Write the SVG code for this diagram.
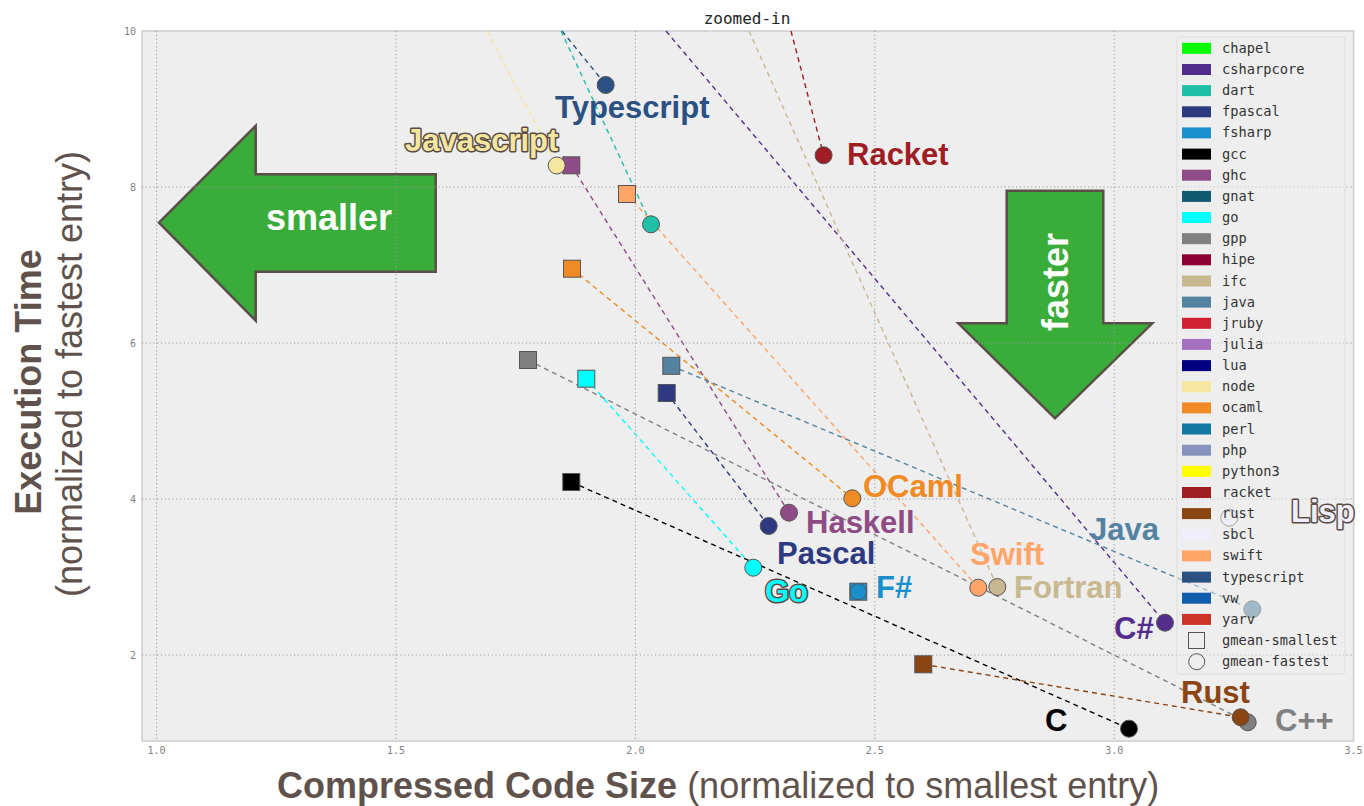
<svg xmlns="http://www.w3.org/2000/svg" width="1364" height="806" viewBox="0 0 1364 806">
<style>
.grid{stroke:#9a9a9a;stroke-width:1;stroke-dasharray:1.2,2.6;fill:none}
.tick{font-family:"DejaVu Sans Mono","Liberation Mono",monospace;font-size:10px;fill:#808080}
.dl{fill:none;stroke-width:1.4;stroke-dasharray:5,4}
.mk{stroke:#555;stroke-width:1}
.lab{font-family:"Liberation Sans",Arial,sans-serif;font-weight:bold;font-size:31px}
.out{stroke:#5a4a44;stroke-width:3;paint-order:stroke;stroke-linejoin:round}
.leg{font-family:"DejaVu Sans Mono","Liberation Mono",monospace;font-size:13.7px;fill:#333}
.arrow{fill:#3aac3a;stroke:#5b4d48;stroke-width:2.5;stroke-linejoin:miter}
.arrowtxt{font-family:"Liberation Sans",Arial,sans-serif;font-weight:bold;font-size:36px;fill:#ffffff}
.axis{font-family:"Liberation Sans",Arial,sans-serif;font-size:36px;fill:#5f524c}
</style>
<rect width="1364" height="806" fill="#ffffff"/>
<g id="plot-area">
<rect x="142" y="31" width="1211.6" height="710" fill="#eeeeee" stroke="#cccccc" stroke-width="1.5"/>
</g>
<g id="connectors">
<line class="dl" stroke="#eeeefc" x1="710" y1="31" x2="1229" y2="517"/>
<line class="dl" stroke="#f5e6a0" x1="487" y1="31" x2="557" y2="165"/>
<line class="dl" stroke="#2b5082" x1="562" y1="31" x2="606" y2="85"/>
<line class="dl" stroke="#20c0a8" x1="561" y1="31" x2="651" y2="224"/>
<line class="dl" stroke="#532d8c" x1="666" y1="31" x2="1165" y2="622.7"/>
<line class="dl" stroke="#c8b88f" x1="749" y1="31" x2="997.3" y2="587"/>
<line class="dl" stroke="#9f1d24" x1="791" y1="31" x2="823.6" y2="155.3"/>
<line class="dl" stroke="#8e4b85" x1="571.3" y1="165.3" x2="789" y2="512.7"/>
<line class="dl" stroke="#ffa568" x1="627" y1="194" x2="978.3" y2="587.7"/>
<line class="dl" stroke="#f08a24" x1="572" y1="268.7" x2="852.3" y2="498.3"/>
<line class="dl" stroke="#5383a1" x1="671.3" y1="365.8" x2="1252.3" y2="609.3"/>
<line class="dl" stroke="#2d3a82" x1="666.7" y1="393" x2="768.7" y2="526"/>
<line class="dl" stroke="#808080" x1="528" y1="360" x2="1247.7" y2="722.3"/>
<line class="dl" stroke="#00ffff" x1="586.3" y1="378.7" x2="753.3" y2="567.7"/>
<line class="dl" stroke="#000000" x1="571.3" y1="482" x2="1129" y2="728.7"/>
<line class="dl" stroke="#8b4513" x1="923.3" y1="664.3" x2="1240.7" y2="717.3"/>
</g>
<g id="arrows">
<g id="arrow-smaller">
<polygon class="arrow" points="159,222.7 255.7,125.7 255.7,174.3 435.7,174.3 435.7,271.7 255.7,271.7 255.7,320.7"/>
</g>
<g id="arrow-faster">
<polygon class="arrow" points="1006.7,190.7 1103.3,190.7 1103.3,323.3 1152.3,323.3 1055,418.3 958.3,323.3 1006.7,323.3"/>
</g>
</g>
<g id="grid">
<line class="grid" x1="142" y1="187" x2="1353.6" y2="187"/>
<line class="grid" x1="142" y1="343" x2="1353.6" y2="343"/>
<line class="grid" x1="142" y1="499" x2="1353.6" y2="499"/>
<line class="grid" x1="142" y1="655" x2="1353.6" y2="655"/>
<line class="grid" x1="156.6" y1="31" x2="156.6" y2="741"/>
<line class="grid" x1="396" y1="31" x2="396" y2="741"/>
<line class="grid" x1="635.4" y1="31" x2="635.4" y2="741"/>
<line class="grid" x1="874.8" y1="31" x2="874.8" y2="741"/>
<line class="grid" x1="1114.2" y1="31" x2="1114.2" y2="741"/>
</g>
<g id="arrow-texts">
<text class="arrowtxt" x="329" y="230" text-anchor="middle">smaller</text>
<text class="arrowtxt" transform="translate(1068,282) rotate(-90)" text-anchor="middle">faster</text>
</g>
<g id="ticks">
<text class="tick" x="136" y="34.5" text-anchor="end">10</text>
<text class="tick" x="136" y="190.5" text-anchor="end">8</text>
<text class="tick" x="136" y="346.5" text-anchor="end">6</text>
<text class="tick" x="136" y="502.5" text-anchor="end">4</text>
<text class="tick" x="136" y="658.5" text-anchor="end">2</text>
<text class="tick" x="156.6" y="754" text-anchor="middle">1.0</text>
<text class="tick" x="396" y="754" text-anchor="middle">1.5</text>
<text class="tick" x="635.4" y="754" text-anchor="middle">2.0</text>
<text class="tick" x="874.8" y="754" text-anchor="middle">2.5</text>
<text class="tick" x="1114.2" y="754" text-anchor="middle">3.0</text>
<text class="tick" x="1353.6" y="754" text-anchor="middle">3.5</text>
</g>
<g id="markers">
<g id="sbcl"><circle class="mk" cx="1229.3" cy="517.7" r="8.5" fill="#eeeefc"/></g>
<g id="typescript"><circle class="mk" cx="605.7" cy="85" r="8.5" fill="#2b5082"/></g>
<g id="ghc-node">
<rect class="mk" x="562.8" y="156.8" width="17" height="17" fill="#8e4b85"/>
<circle class="mk" cx="556.7" cy="165.5" r="8.5" fill="#f5e6a0"/>
</g>
<g id="racket"><circle class="mk" cx="823.6" cy="155.3" r="8.5" fill="#9f1d24"/></g>
<g id="swift-sq"><rect class="mk" x="618.5" y="185.5" width="17" height="17" fill="#ffa568"/></g>
<g id="dart"><circle class="mk" cx="651" cy="224.3" r="8.5" fill="#20c0a8"/></g>
<g id="ocaml-sq"><rect class="mk" x="563.5" y="260.2" width="17" height="17" fill="#f08a24"/></g>
<g id="gpp-sq"><rect class="mk" x="519.5" y="351.5" width="17" height="17" fill="#808080"/></g>
<g id="go-sq"><rect class="mk" x="577.8" y="370.2" width="17" height="17" fill="#00ffff"/></g>
<g id="java-sq"><rect class="mk" x="662.8" y="357.3" width="17" height="17" fill="#5383a1"/></g>
<g id="fpascal-sq"><rect class="mk" x="658.2" y="384.5" width="17" height="17" fill="#2d3a82"/></g>
<g id="gcc-sq"><rect class="mk" x="562.8" y="473.5" width="17" height="17" fill="#000000"/></g>
<g id="ocaml"><circle class="mk" cx="852.3" cy="498.3" r="8.5" fill="#f08a24"/></g>
<g id="ghc"><circle class="mk" cx="789" cy="512.7" r="8.5" fill="#8e4b85"/></g>
<g id="fpascal"><circle class="mk" cx="768.7" cy="526" r="8.5" fill="#2d3a82"/></g>
<g id="go"><circle class="mk" cx="753.3" cy="567.7" r="8.5" fill="#00ffff"/></g>
<g id="fsharp">
<rect class="mk" x="849.8" y="583.2" width="17" height="17" fill="#1b8fcc"/>
<circle class="mk" cx="858.3" cy="591.7" r="8" fill="#1b8fcc"/>
</g>
<g id="swift"><circle class="mk" cx="978.3" cy="587.7" r="8.5" fill="#ffa568"/></g>
<g id="ifc"><circle class="mk" cx="997.3" cy="587" r="8.5" fill="#c8b88f"/></g>
<g id="java"><circle class="mk" cx="1252.3" cy="609.3" r="8.5" fill="#5383a1"/></g>
<g id="csharpcore"><circle class="mk" cx="1165" cy="622.7" r="8.5" fill="#532d8c"/></g>
<g id="rust-sq"><rect class="mk" x="914.8" y="655.8" width="17" height="17" fill="#8b4513"/></g>
<g id="gpp"><circle class="mk" cx="1247.7" cy="722.3" r="8.5" fill="#808080"/></g>
<g id="rust"><circle class="mk" cx="1240.7" cy="717.3" r="8.5" fill="#8b4513"/></g>
<g id="gcc"><circle class="mk" cx="1129" cy="728.7" r="8.5" fill="#000000"/></g>
</g>
<g id="legend">
<rect x="1177" y="37" width="168" height="637" rx="3" fill="#eeeeee" fill-opacity="0.5" stroke="#dddddd" stroke-width="1"/>
<rect x="1182" y="42.8" width="29" height="11" fill="#00ff00"/><text class="leg" x="1222" y="52.8">chapel</text>
<rect x="1182" y="64" width="29" height="11" fill="#532d8c"/><text class="leg" x="1222" y="74">csharpcore</text>
<rect x="1182" y="85.1" width="29" height="11" fill="#20c0a8"/><text class="leg" x="1222" y="95.1">dart</text>
<rect x="1182" y="106.3" width="29" height="11" fill="#2d3a82"/><text class="leg" x="1222" y="116.3">fpascal</text>
<rect x="1182" y="127.4" width="29" height="11" fill="#1b8fcc"/><text class="leg" x="1222" y="137.4">fsharp</text>
<rect x="1182" y="148.6" width="29" height="11" fill="#000000"/><text class="leg" x="1222" y="158.6">gcc</text>
<rect x="1182" y="169.7" width="29" height="11" fill="#8e4b85"/><text class="leg" x="1222" y="179.7">ghc</text>
<rect x="1182" y="190.9" width="29" height="11" fill="#0f5b70"/><text class="leg" x="1222" y="200.9">gnat</text>
<rect x="1182" y="212" width="29" height="11" fill="#00ffff"/><text class="leg" x="1222" y="222">go</text>
<rect x="1182" y="233.2" width="29" height="11" fill="#808080"/><text class="leg" x="1222" y="243.2">gpp</text>
<rect x="1182" y="254.3" width="29" height="11" fill="#8a0030"/><text class="leg" x="1222" y="264.3">hipe</text>
<rect x="1182" y="275.5" width="29" height="11" fill="#c8b88f"/><text class="leg" x="1222" y="285.5">ifc</text>
<rect x="1182" y="296.6" width="29" height="11" fill="#5383a1"/><text class="leg" x="1222" y="306.6">java</text>
<rect x="1182" y="317.8" width="29" height="11" fill="#d02233"/><text class="leg" x="1222" y="327.8">jruby</text>
<rect x="1182" y="338.9" width="29" height="11" fill="#a66fc0"/><text class="leg" x="1222" y="348.9">julia</text>
<rect x="1182" y="360.1" width="29" height="11" fill="#000080"/><text class="leg" x="1222" y="370.1">lua</text>
<rect x="1182" y="381.2" width="29" height="11" fill="#f5e6a0"/><text class="leg" x="1222" y="391.2">node</text>
<rect x="1182" y="402.4" width="29" height="11" fill="#f08a24"/><text class="leg" x="1222" y="412.4">ocaml</text>
<rect x="1182" y="423.5" width="29" height="11" fill="#1279a0"/><text class="leg" x="1222" y="433.5">perl</text>
<rect x="1182" y="444.7" width="29" height="11" fill="#8892bf"/><text class="leg" x="1222" y="454.7">php</text>
<rect x="1182" y="465.8" width="29" height="11" fill="#ffff00"/><text class="leg" x="1222" y="475.8">python3</text>
<rect x="1182" y="487" width="29" height="11" fill="#9f1d24"/><text class="leg" x="1222" y="497">racket</text>
<rect x="1182" y="508.1" width="29" height="11" fill="#8b4513"/><text class="leg" x="1222" y="518.1">rust</text>
<rect x="1182" y="529.3" width="29" height="11" fill="#eeeefc"/><text class="leg" x="1222" y="539.3">sbcl</text>
<rect x="1182" y="550.4" width="29" height="11" fill="#ffa568"/><text class="leg" x="1222" y="560.4">swift</text>
<rect x="1182" y="571.6" width="29" height="11" fill="#2b5082"/><text class="leg" x="1222" y="581.6">typescript</text>
<rect x="1182" y="592.7" width="29" height="11" fill="#0f5fae"/><text class="leg" x="1222" y="602.7">vw</text>
<rect x="1182" y="613.9" width="29" height="11" fill="#cc3428"/><text class="leg" x="1222" y="623.9">yarv</text>
<rect x="1188.5" y="632.5" width="16" height="16" fill="none" stroke="#555" stroke-width="1"/><text class="leg" x="1222" y="645">gmean-smallest</text>
<circle cx="1196.7" cy="661.7" r="8" fill="none" stroke="#555" stroke-width="1"/><text class="leg" x="1222" y="666.2">gmean-fastest</text>
</g>
<g id="labels">
<text class="lab" x="555" y="118" fill="#2b5082">Typescript</text>
<text class="lab out" x="405" y="151" fill="#f5e6a0">Javascript</text>
<text class="lab" x="847" y="165" fill="#9f1d24">Racket</text>
<text class="lab" x="863" y="497" fill="#f08a24">OCaml</text>
<text class="lab" x="806" y="533" fill="#8e4b85">Haskell</text>
<text class="lab" x="777" y="564" fill="#2d3a82">Pascal</text>
<text class="lab out" x="765" y="602" fill="#00ffff">Go</text>
<text class="lab" x="876" y="598" fill="#1b8fcc">F#</text>
<text class="lab" x="970" y="565" fill="#ffa568">Swift</text>
<text class="lab" x="1014" y="598" fill="#c8b88f">Fortran</text>
<text class="lab" x="1090" y="540" fill="#5383a1">Java</text>
<text class="lab out" x="1291" y="522" fill="#eeeefc">Lisp</text>
<text class="lab" x="1114" y="639" fill="#532d8c">C#</text>
<text class="lab" x="1181" y="703" fill="#8b4513">Rust</text>
<text class="lab" x="1045" y="731" fill="#000000">C</text>
<text class="lab" x="1275" y="731" fill="#808080">C++</text>
</g>
<g id="titles">
<text x="747" y="24" text-anchor="middle" font-family="DejaVu Sans Mono, Liberation Mono, monospace" font-size="16" fill="#222">zoomed-in</text>
<text class="axis" x="277" y="798"><tspan font-weight="bold">Compressed Code Size</tspan> (normalized to smallest entry)</text>
<text class="axis" font-weight="bold" font-size="35.5" transform="translate(41,382) rotate(-90)" text-anchor="middle">Execution Time</text>
<text class="axis" font-size="36.5" transform="translate(82,374) rotate(-90)" text-anchor="middle">(normalized to fastest entry)</text>
</g>
</svg>
